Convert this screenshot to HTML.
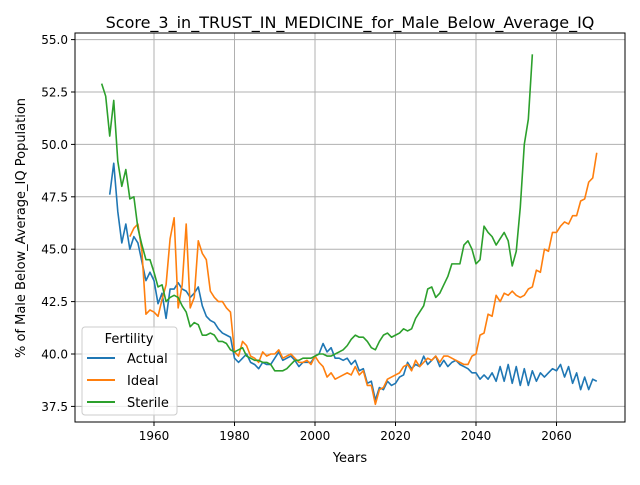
<!DOCTYPE html>
<html><head><meta charset="utf-8"><style>
body{margin:0;background:#fff}
text{font-family:"DejaVu Sans","Liberation Sans",sans-serif}
</style></head><body>
<svg id="chart" width="640" height="480" xmlns="http://www.w3.org/2000/svg">
<rect width="640" height="480" fill="#fff"/>
<g id="grid"></g>
<g id="series"></g>
<rect x="75" y="33" width="550" height="389" fill="none" stroke="#000" stroke-width="1"/>
<g id="ticks"></g>
<text x="350" y="28" font-size="16" text-anchor="middle">Score_3_in_TRUST_IN_MEDICINE_for_Male_Below_Average_IQ</text>
<text x="350" y="462" font-size="13" text-anchor="middle">Years</text>
<text transform="translate(25,228) rotate(-90)" font-size="13" text-anchor="middle">% of Male Below_Average_IQ Population</text>
<g>
<rect x="82" y="327" width="95" height="88" rx="3" fill="#fff" fill-opacity="0.8" stroke="#ccc"/>
<text x="129" y="343" font-size="13" text-anchor="middle">Fertility</text>
<line x1="87" y1="358" x2="115" y2="358" stroke="#1f77b4" stroke-width="2"/>
<text x="127" y="363" font-size="13">Actual</text>
<line x1="87" y1="380" x2="115" y2="380" stroke="#ff7f0e" stroke-width="2"/>
<text x="127" y="385" font-size="13">Ideal</text>
<line x1="87" y1="402" x2="115" y2="402" stroke="#2ca02c" stroke-width="2"/>
<text x="127" y="407" font-size="13">Sterile</text>
</g>
</svg>
<script>
const xTicks=[1960,1980,2000,2020,2040,2060];
const yTicks=[37.5,40.0,42.5,45.0,47.5,50.0,52.5,55.0];
const actualStart=1949;
const actualVals=[47.6,49.1,46.8,45.3,46.2,45.0,45.6,45.3,44.4,43.5,43.9,43.5,42.4,42.9,41.7,43.1,43.1,43.4,43.1,43.0,42.7,42.9,43.2,42.3,41.8,41.6,41.5,41.2,41.0,40.9,40.8,39.8,39.6,39.8,40.0,39.6,39.5,39.3,39.6,39.5,39.5,39.8,40.1,39.7,39.8,39.9,39.7,39.4,39.6,39.6,39.6,39.9,40.0,40.5,40.1,40.3,39.8,39.8,39.7,39.8,39.5,39.7,39.2,39.3,38.6,38.7,37.8,38.4,38.3,38.7,38.5,38.6,38.9,39.0,39.6,39.3,39.5,39.4,39.9,39.5,39.7,39.9,39.4,39.7,39.4,39.6,39.7,39.5,39.4,39.3,39.1,39.1,38.8,39.0,38.8,39.1,38.7,39.4,38.7,39.5,38.6,39.4,38.5,39.3,38.5,39.2,38.7,39.1,38.9,39.1,39.3,39.2,39.5,38.9,39.4,38.6,39.1,38.3,38.9,38.3,38.8,38.7];
const idealStart=1954;
const idealVals=[45.6,46.0,46.2,44.9,41.9,42.1,42.0,41.8,42.6,43.3,45.5,46.5,42.2,43.3,46.2,42.2,42.7,45.4,44.8,44.5,43.0,42.7,42.5,42.5,42.2,42.0,40.1,39.9,40.6,40.4,39.9,39.8,39.6,40.1,39.9,40.0,40.0,40.2,39.8,39.9,40.0,39.8,39.6,39.6,39.7,39.5,39.9,39.6,39.4,38.9,39.1,38.8,38.9,39.0,39.1,39.0,39.4,39.0,39.2,38.5,38.5,37.6,38.3,38.4,38.8,38.9,39.0,39.1,39.4,39.5,39.2,39.7,39.4,39.6,39.8,39.7,39.9,39.6,39.9,39.9,39.8,39.7,39.6,39.5,39.5,39.9,40.0,40.9,41.0,41.9,41.8,42.8,42.5,42.9,42.8,43.0,42.8,42.7,42.8,43.1,43.2,44.0,43.9,45.0,44.9,45.8,45.8,46.1,46.3,46.2,46.6,46.6,47.3,47.4,48.2,48.4,49.6];
const sterileStart=1947;
const sterileVals=[52.9,52.3,50.4,52.1,49.2,48.0,48.8,47.4,47.5,46.0,45.2,44.5,44.5,43.9,43.2,43.3,42.5,42.7,42.8,42.7,42.3,42.0,41.3,41.5,41.4,40.9,40.9,41.0,40.9,40.6,40.6,40.5,40.2,40.1,40.2,40.3,39.9,39.8,39.7,39.7,39.6,39.6,39.5,39.2,39.2,39.2,39.3,39.5,39.7,39.7,39.8,39.8,39.8,39.9,40.0,40.0,39.9,39.9,40.0,40.1,40.2,40.4,40.7,40.9,40.8,40.8,40.6,40.3,40.2,40.6,40.9,41.0,40.8,40.9,41.0,41.2,41.1,41.2,41.7,42.0,42.3,43.1,43.2,42.7,42.9,43.3,43.7,44.3,44.3,44.3,45.2,45.4,45.0,44.3,44.5,46.1,45.8,45.6,45.2,45.5,45.8,45.4,44.2,44.9,47.0,50.0,51.2,54.3];
const NS="http://www.w3.org/2000/svg";
const X=yr=>154+(yr-1960)*4.025;
const Y=v=>354-(v-40)*20.96;
const grid=document.getElementById('grid'),ticks=document.getElementById('ticks'),ser=document.getElementById('series');
function mk(tag,attrs,parent){const e=document.createElementNS(NS,tag);for(const k in attrs)e.setAttribute(k,attrs[k]);parent.appendChild(e);return e;}
xTicks.forEach(t=>{
 const g=mk('line',{x1:X(t),x2:X(t),y1:33,y2:422,stroke:'#b0b0b0','stroke-width':1},grid);
 
 
 mk('line',{x1:X(t),x2:X(t),y1:422,y2:426,stroke:'#000'},ticks);
 const tx=mk('text',{x:X(t),y:440,'font-size':12,'text-anchor':'middle'},ticks);
 tx.textContent=t;
 
 
});
yTicks.forEach(t=>{
 const g=mk('line',{x1:75,x2:625,y1:Y(t),y2:Y(t),stroke:'#b0b0b0','stroke-width':1},grid);
 
 
 mk('line',{x1:71,x2:75,y1:Y(t),y2:Y(t),stroke:'#000'},ticks);
 const tx=mk('text',{x:68,y:Y(t)+4.5,'font-size':12,'text-anchor':'end'},ticks);
 tx.textContent=t.toFixed(1);
 
 
});
function line(start,vals,color,name){
 const d=vals.map((v,i)=>(i?'L':'M')+X(start+i).toFixed(2)+','+Y(v).toFixed(2)).join('');
 const p=mk('path',{d:d,fill:'none',stroke:color,'stroke-width':1.6,'stroke-linejoin':'round'},ser);
 
 
}
line(actualStart,actualVals,'#1f77b4','actual-line');
line(idealStart,idealVals,'#ff7f0e','ideal-line');
line(sterileStart,sterileVals,'#2ca02c','sterile-line');
</script>
</body></html>
